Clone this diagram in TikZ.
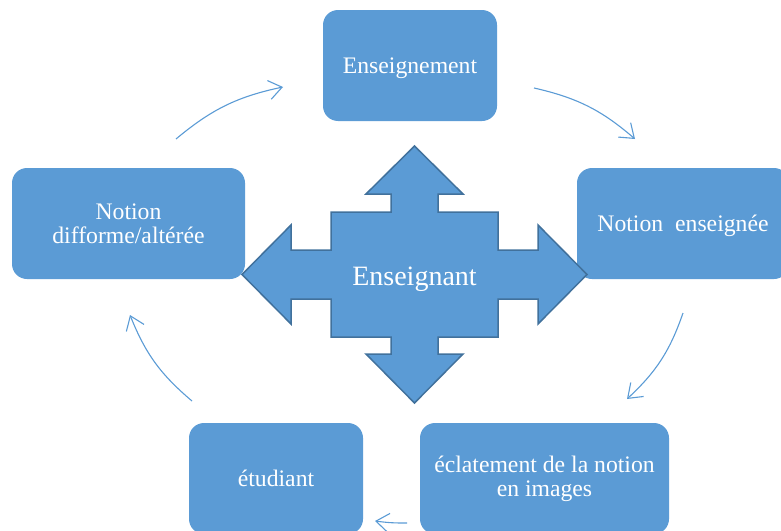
\documentclass[tikz,border=0pt]{standalone}
\usepackage{fontspec}
\setmainfont{Liberation Serif}
\usetikzlibrary{arrows.meta}
\definecolor{accent}{HTML}{5B9BD5}
\definecolor{accentdark}{HTML}{41719C}
\begin{document}
\begin{tikzpicture}[x=1pt,y=-1pt,
  box/.style={fill=accent, rounded corners=15pt, text=white,
    font=\fontsize{23.7}{24}\selectfont, align=center, inner sep=0pt,
    minimum height=111pt},
  oneline/.style={text height=18pt, text depth=3pt},
  cyc/.style={draw=accent, line width=1.1pt,
    -{Straight Barb[length=13pt,width=19pt]}, bend left=14},
  hub/.style={fill=accent, draw=accentdark, line width=1.5pt, line join=miter},
  hublabel/.style={text=white, font=\fontsize{28}{30}\selectfont, inner sep=0pt,
    text height=24pt, text depth=3pt}]
\useasboundingbox (0,0) rectangle (781,530);
\clip (0,0) rectangle (781,530);

% boxes
\node[box, oneline, minimum width=174pt] (teach)   at (410,65.5)    {Enseignement};
\node[box, oneline, minimum width=212pt] (taught)  at (683,223.5)   {Notion\ \ enseignée};
\node[box, minimum width=249pt] (burst)   at (544.5,478.5) {éclatement de la notion\\en images};
\node[box, oneline, minimum width=174pt] (student) at (276,478.5)   {étudiant};
\node[box, minimum width=233pt] (altered) at (128.5,223.5) {Notion\\difforme/altérée};

% central four-way arrow
\draw[hub] (414.5,146) -- (463,194) -- (438,194) -- (438,212) -- (498,212)
  -- (498,250) -- (538,250) -- (538,225) -- (587,274.5) -- (538,324)
  -- (538,299) -- (498,299) -- (498,337) -- (438,337) -- (438,354)
  -- (463,354) -- (414.5,403) -- (366,354) -- (391,354) -- (391,337)
  -- (331,337) -- (331,299) -- (291,299) -- (291,324) -- (242,274.5)
  -- (291,225) -- (291,250) -- (331,250) -- (331,212) -- (391,212)
  -- (391,194) -- (366,194) -- cycle;
\node[hublabel] (hubtext) at (414.5,274.5) {Enseignant};

% cycle arrows
\coordinate (a1s) at (176,139);  \coordinate (a1e) at (283,87);
\coordinate (a2s) at (534,88);   \coordinate (a2e) at (635,139);
\coordinate (a3s) at (683,313);  \coordinate (a3e) at (627,399);
\coordinate (a4s) at (407,523);  \coordinate (a4e) at (375,521);
\coordinate (a5s) at (192,401);  \coordinate (a5e) at (130,315);
\draw[cyc] (a1s) to (a1e);
\draw[cyc] (a2s) to (a2e);
\draw[cyc] (a3s) to (a3e);
\draw[cyc, bend left=4] (a4s) to (a4e);
\draw[cyc] (a5s) to (a5e);
\end{tikzpicture}
\end{document}
